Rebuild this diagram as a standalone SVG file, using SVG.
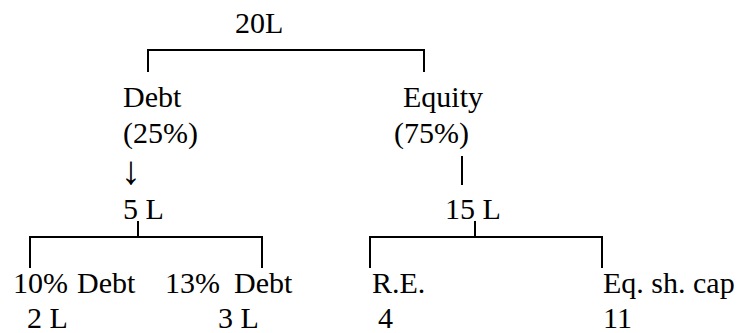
<svg xmlns="http://www.w3.org/2000/svg" width="746" height="333" viewBox="0 0 746 333">
<rect width="746" height="333" fill="#fff"/>
<g id="connectors" stroke="#000" stroke-width="2" fill="none">
<path d="M148,72 V50 H424 V72"/>
<path d="M462,156 V185"/>
<path d="M138,221 V237 M30,268 V237 H262 V268"/>
<path d="M475,221 V237 M370,268 V237 H602 V268"/>
</g>
<g id="root"><text font-family="Liberation Serif" font-size="30" x="235" y="33">20L</text></g>
<g id="debt"><text font-family="Liberation Serif" font-size="30" x="123" y="107">Debt</text><text font-family="Liberation Serif" font-size="30" x="123" y="143">(25%)</text><text font-family="Liberation Serif" font-size="40" x="121" y="184">↓</text></g>
<g id="equity"><text font-family="Liberation Serif" font-size="30" x="403" y="107">Equity</text><text font-family="Liberation Serif" font-size="30" x="394" y="143">(75%)</text></g>
<g id="debt-amt"><text font-family="Liberation Serif" font-size="30" x="123" y="219">5 L</text></g>
<g id="equity-amt"><text font-family="Liberation Serif" font-size="30" x="445" y="219">15 L</text></g>
<g id="debt10"><text font-family="Liberation Serif" font-size="30" x="13" y="293">10%</text><text font-family="Liberation Serif" font-size="30" x="77" y="293">Debt</text><text font-family="Liberation Serif" font-size="30" x="27" y="328">2 L</text></g>
<g id="debt13"><text font-family="Liberation Serif" font-size="30" x="165" y="293">13%</text><text font-family="Liberation Serif" font-size="30" x="234" y="293">Debt</text><text font-family="Liberation Serif" font-size="30" x="218" y="328">3 L</text></g>
<g id="re"><text font-family="Liberation Serif" font-size="30" x="372" y="293">R.E.</text><text font-family="Liberation Serif" font-size="30" x="378" y="328">4</text></g>
<g id="eqcap"><text font-family="Liberation Serif" font-size="30" x="603" y="293">Eq. sh. cap</text><text font-family="Liberation Serif" font-size="30" x="603" y="328">11</text></g>
</svg>
